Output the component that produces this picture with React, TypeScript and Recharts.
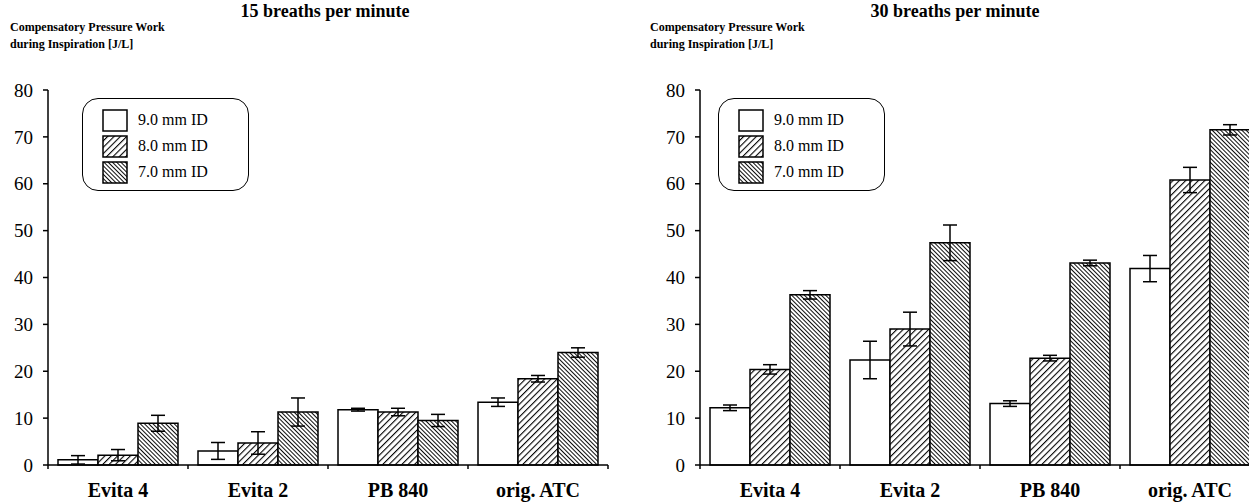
import React from 'react';
import { BarChart, Bar, XAxis, YAxis, ErrorBar, Legend } from 'recharts';

const categories = ['Evita 4', 'Evita 2', 'PB 840', 'orig. ATC'];
const seriesNames = ['9.0 mm ID', '8.0 mm ID', '7.0 mm ID'];
const yTicks = [0, 10, 20, 30, 40, 50, 60, 70, 80];

// 15 breaths per minute
const slow9 = [1.1, 3.0, 11.8, 13.4];
const slow9Err = [0.9, 1.8, 0.3, 0.9];
const slow8 = [2.1, 4.7, 11.3, 18.4];
const slow8Err = [1.2, 2.4, 0.8, 0.7];
const slow7 = [8.9, 11.3, 9.5, 24.0];
const slow7Err = [1.7, 3.0, 1.3, 1.0];

// 30 breaths per minute
const fast9 = [12.2, 22.4, 13.1, 41.9];
const fast9Err = [0.6, 4.0, 0.6, 2.8];
const fast8 = [20.4, 29.0, 22.8, 60.8];
const fast8Err = [1.0, 3.6, 0.6, 2.7];
const fast7 = [36.3, 47.4, 43.1, 71.5];
const fast7Err = [0.9, 3.8, 0.6, 1.1];

const serif = 'Liberation Serif, DejaVu Serif, serif';

function buildRows(v9: number[], e9: number[], v8: number[], e8: number[], v7: number[], e7: number[]) {
  return categories.map((name, i) => ({
    name,
    id9: v9[i], id9e: e9[i],
    id8: v8[i], id8e: e8[i],
    id7: v7[i], id7e: e7[i],
  }));
}

const slowRows = buildRows(slow9, slow9Err, slow8, slow8Err, slow7, slow7Err);
const fastRows = buildRows(fast9, fast9Err, fast8, fast8Err, fast7, fast7Err);

function Patterns({ prefix }: { prefix: string }) {
  return (
    <defs>
      <pattern id={`${prefix}-p8`} width="4.5" height="4.5" patternUnits="userSpaceOnUse" patternTransform="rotate(45)">
        <rect width="4.5" height="4.5" fill="#fff" />
        <line x1="0" y1="0" x2="0" y2="4.5" stroke="#000" strokeWidth="2.2" />
      </pattern>
      <pattern id={`${prefix}-p7`} width="3" height="3" patternUnits="userSpaceOnUse" patternTransform="rotate(-45)">
        <rect width="3" height="3" fill="#fff" />
        <line x1="0" y1="0" x2="0" y2="3" stroke="#000" strokeWidth="1.9" />
      </pattern>
    </defs>
  );
}

function CategoryTick(props: any) {
  const { x, y, payload, index, visibleTicksCount } = props;
  const half = payload && payload.offset ? payload.offset : 70;
  const last = index === visibleTicksCount - 1;
  return (
    <g>
      <line x1={x - half} y1={y} x2={x - half} y2={y + 4} stroke="#000" strokeWidth={1.5} />
      {last && <line x1={x + half} y1={y} x2={x + half} y2={y + 4} stroke="#000" strokeWidth={1.5} />}
      <text x={x} y={y + 32} textAnchor="middle" fontFamily={serif} fontWeight="bold" fontSize={20} fill="#000">
        {payload.value}
      </text>
    </g>
  );
}

function makeLegend(prefix: string) {
  const fills = ['#fff', `url(#${prefix}-p8)`, `url(#${prefix}-p7)`];
  return () => (
    <div style={{
      width: 167, height: 93, border: '1.5px solid #000', borderRadius: 16,
      boxSizing: 'border-box', padding: '8px 0 0 19px', background: '#fff',
    }}>
      {seriesNames.map((s, i) => (
        <div key={s} style={{ display: 'flex', alignItems: 'center', height: 26 }}>
          <svg width={26} height={23} style={{ display: 'block' }}>
            <rect x={1} y={1} width={24} height={21} fill={fills[i]} stroke="#000" strokeWidth={1.5} />
          </svg>
          <span style={{ fontFamily: serif, fontSize: 16, marginLeft: 10, color: '#000' }}>{s}</span>
        </div>
      ))}
    </div>
  );
}

function Panel({ rows, prefix, title, left, yWidth, legendLeft, titleWidth }: {
  rows: any[]; prefix: string; title: string; left: number; yWidth: number; legendLeft: number; titleWidth: number;
}) {
  const fills = ['#fff', `url(#${prefix}-p8)`, `url(#${prefix}-p7)`];
  const keys = ['id9', 'id8', 'id7'];
  return (
    <div style={{ position: 'absolute', left, top: 0 }}>
      <div style={{ position: 'absolute', left: 0, top: 1, width: titleWidth, textAlign: 'center', fontFamily: serif, fontWeight: 'bold', fontSize: 18 }}>
        {title}
      </div>
      <div style={{ position: 'absolute', left: 10, top: 19, fontFamily: serif, fontWeight: 'bold', fontSize: 12, lineHeight: '17px', whiteSpace: 'nowrap' }}>
        Compensatory Pressure Work<br />during Inspiration [J/L]
      </div>
      <BarChart
        width={yWidth + 572}
        height={502}
        data={rows}
        margin={{ top: 90, right: 12, bottom: 7, left: 0 }}
        barCategoryGap={10}
        barGap={0}
      >
        <Patterns prefix={prefix} />
        <XAxis
          dataKey="name"
          tick={<CategoryTick />}
          tickLine={false}
          tickSize={0}
          tickMargin={0}
          height={30}
          axisLine={{ stroke: '#000', strokeWidth: 1.5 }}
          interval={0}
        />
        <YAxis
          domain={[0, 80]}
          ticks={yTicks}
          width={yWidth}
          tickSize={5}
          tickMargin={10}
          axisLine={{ stroke: '#000', strokeWidth: 1.5 }}
          tickLine={{ stroke: '#000', strokeWidth: 1.5 }}
          tick={{ fontFamily: serif, fontSize: 19, fill: '#000' }}
        />
        <Legend
          layout="vertical"
          align="center"
          verticalAlign="middle"
          content={makeLegend(prefix)}
          wrapperStyle={{ left: legendLeft, top: 98, width: 'auto' }}
        />
        {keys.map((k, i) => (
          <Bar key={k} dataKey={k} name={seriesNames[i]} fill={fills[i]} stroke="#000" strokeWidth={1.5} isAnimationActive={false}>
            <ErrorBar dataKey={`${k}e`} width={7} stroke="#000" strokeWidth={1.5} direction="y" />
          </Bar>
        ))}
      </BarChart>
    </div>
  );
}

export default function App() {
  return (
    <div style={{ position: 'fixed', left: 0, top: 0, width: 1249, height: 502, overflow: 'hidden', background: '#fff' }}>
      <Panel rows={slowRows} prefix="slow" title="15 breaths per minute" left={0} yWidth={48} legendLeft={82} titleWidth={650} />
      <Panel rows={fastRows} prefix="fast" title="30 breaths per minute" left={640} yWidth={60} legendLeft={78} titleWidth={630} />
    </div>
  );
}
